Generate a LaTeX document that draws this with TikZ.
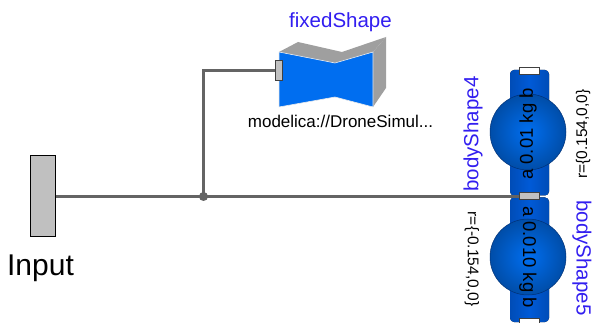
\documentclass[tikz,border=0pt]{standalone}
\usepackage{fontspec}
\setmainfont{Liberation Sans}
\usepackage{tikz}
\usetikzlibrary{positioning,calc}
\definecolor{wirecol}{RGB}{100,100,100}
\definecolor{shapeblue}{RGB}{0,110,240}
\definecolor{rodblue}{RGB}{0,90,215}
\definecolor{portgray}{RGB}{192,192,192}
\definecolor{labelblue}{RGB}{50,30,240}
\tikzset{
wire/.style={wirecol,line width=3pt},
port/.style={draw=black!75,line width=1pt,fill=portgray,inner sep=0pt,minimum width=#1},
port/.default=20pt,
namelabel/.style={labelblue,font=\fontsize{20.5}{22}\selectfont,inner sep=0pt},
paramlabel/.style={black,font=\fontsize{15.5}{17}\selectfont,inner sep=0pt},
masslabel/.style={black,font=\fontsize{18.5}{20}\selectfont,inner sep=0pt},
ball/.style={draw=rodblue!55!black,line width=.5pt,inner color=shapeblue,outer color=shapeblue!70!black},
rod/.style={left color=rodblue!85!black,right color=rodblue!85!black,middle color=rodblue,rounded corners=4pt}
}
\begin{document}
\begin{tikzpicture}[x=1pt,y=-1pt]
\useasboundingbox (0,0) rectangle (592,323);
% fixed shape
\fill[gray!75] (279,52) -- (298,42) -- (342,52) -- (386,37) -- (373,52) -- (335,63) -- cycle;
\fill[gray!75] (373,52) -- (386,37) -- (386,88) -- (373,107) -- cycle;
\fill[shapeblue,draw=white!85!gray,line width=.6pt] (279,52) -- (335,63) -- (373,52) -- (373,107) -- (335,97) -- (279,107) -- cycle;
\node[namelabel] (fixedName) at (340.5,22) {fixedShape};
\node[black,font=\fontsize{17}{18}\selectfont,inner sep=0pt] (fixedPath) at (340.5,121) {modelica://DroneSimul...};
% body shapes
\fill[rod] (510,70) rectangle (549,195.5);
\fill[rod] (510,197.5) rectangle (549,322);
\draw[ball] (528,132) circle (38);
\draw[ball] (528,257) circle (38);
\node[masslabel,rotate=90] (massTop) at (528,134) {a 0.01 kg b};
\node[masslabel,rotate=-90] (massBot) at (528,257) {a 0.010 kg b};
\node[namelabel,rotate=90] (bodyFour) at (473,134) {bodyShape4};
\node[namelabel,rotate=-90] (bodyFive) at (582,258) {bodyShape5};
\node[paramlabel,rotate=90] (rFour) at (583,134) {r=\{0.154,0,0\}};
\node[paramlabel,rotate=-90] (rFive) at (472,259) {r=\{-0.154,0,0\}};
% ports
\node[port=20pt,fill=white,minimum height=7pt] (topA) at (529,71.5) {};
\node[port=20pt,minimum height=7pt] (midA) at (529,196.5) {};
\node[port=20pt,fill=white,minimum height=7pt] (botA) at (529,321.5) {};
\node[port=7.5pt,minimum height=20pt] (fixedA) at (279,71) {};
\node[draw=black,line width=1pt,fill=portgray,inner sep=0pt,minimum width=25pt,minimum height=81pt] (inputBar) at (42.5,196.5) {};
\node[font=\fontsize{30}{31}\selectfont,inner sep=0pt] (inputName) at (40.5,268) {Input};
% connections
\coordinate (joint) at (203.5,196.5);
\draw[wire] (inputBar.east) -- (midA.west);
\draw[wire] (joint) |- (fixedA.west);
\fill[wirecol] (joint) circle (4.5);
\end{tikzpicture}
\end{document}
